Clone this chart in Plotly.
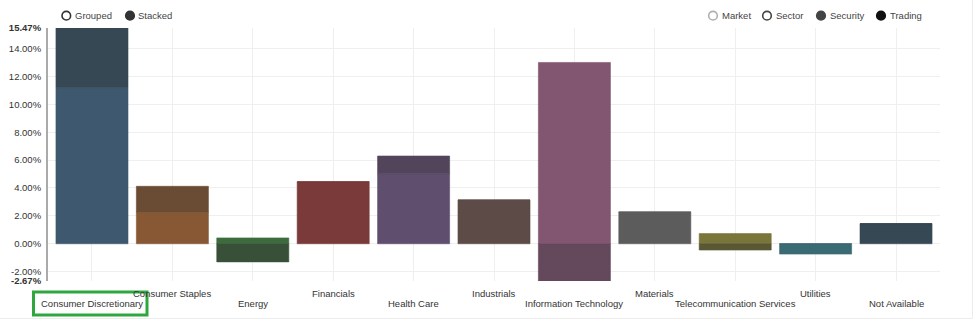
import plotly.graph_objects as go

categories = ["Consumer Discretionary", "Consumer Staples", "Energy", "Financials",
              "Health Care", "Industrials", "Information Technology", "Materials",
              "Telecommunication Services", "Utilities", "Not Available"]
security = [11.20, 2.26, 0.42, 4.45, 5.03, 3.14, 13.00, 2.28, 0.73, 0.00, 1.45]
trading = [4.27, 1.86, -1.30, 0.00, 1.26, 0.00, -2.67, 0.00, -0.45, -0.74, 0.00]
security_colors = ["#3e5870", "#885834", "#3d6b3d", "#7a3a3a", "#5f4e6e", "#5d4b48",
                   "#825670", "#5c5c5c", "#7a763a", "#3a6a73", "#374855"]
trading_colors = ["#374855", "#6a4b34", "#385038", "#7a3a3a", "#52445a", "#5d4b48",
                  "#64485c", "#5c5c5c", "#5a5834", "#3a6a73", "#374855"]
y_min, y_max = -2.67, 15.47
y_ticks = [-2.67, -2, 0, 2, 4, 6, 8, 10, 12, 14, 15.47]

W, H = 974, 321
L, R, T, B = 48, 940, 28, 281
FONT = "Liberation Sans, Arial, sans-serif"
FS = 9.5
TXT = "#333333"


def px(x):
    return (x - L) / (R - L)


def py(y):
    return (B - y) / (B - T)


def fmt(v):
    s = f"{v:.2f}%"
    return f"<b>{s}</b>" if v in (y_min, y_max) else s


fig = go.Figure()
fig.add_trace(go.Bar(x=categories, y=security, name="Security",
                     marker=dict(color=security_colors,
                                 line=dict(color=security_colors, width=0.6))))
fig.add_trace(go.Bar(x=categories, y=trading, name="Trading",
                     marker=dict(color=trading_colors,
                                 line=dict(color=trading_colors, width=0.6))))

fig.update_layout(
    width=W, height=H,
    margin=dict(l=L, r=W - R, t=T, b=H - B, pad=0, autoexpand=False),
    barmode="relative", bargap=0.104,
    plot_bgcolor="white", paper_bgcolor="white",
    showlegend=False,
    font=dict(family=FONT, size=FS, color=TXT),
    xaxis=dict(type="category", range=[-0.5 - 0.047, len(categories) - 0.5 + 0.047],
               showgrid=True, gridcolor="#efefef", gridwidth=1, automargin=False,
               showticklabels=False, ticks="", showline=False, zeroline=False),
    yaxis=dict(range=[y_min, y_max], tickvals=y_ticks,
               ticktext=[fmt(v) for v in y_ticks], automargin=False,
               showgrid=True, gridcolor="#efefef", gridwidth=1, zeroline=False,
               showline=True, linecolor="#aaaaaa", linewidth=2,
               ticks="", ticklabelstandoff=3,
               tickfont=dict(family=FONT, size=FS, color=TXT)),
)

annotations = []
for i, c in enumerate(categories):
    annotations.append(dict(x=c, y=0, xref="x", yref="paper", text=c, showarrow=False,
                            xanchor="center", yanchor="middle",
                            yshift=-22.5 if i % 2 == 0 else -12.5,
                            font=dict(family=FONT, size=FS, color=TXT)))

# toggle / legend items (circle center x, text start x, label, filled, color)
items = [
    (66.3, 73.3, "Grouped", False, "#333333"),
    (130, 135.7, "Stacked", True, "#333333"),
    (713, 720, "Market", False, "#b0b0b0"),
    (767, 774.3, "Sector", False, "#444444"),
    (821, 827.7, "Security", True, "#444444"),
    (881, 888.3, "Trading", True, "#111111"),
]
shapes = []
cy = 15.7
for cx, tx, label, filled, col in items:
    r = 4.3
    shapes.append(dict(type="circle", xref="paper", yref="paper",
                       x0=px(cx - r), x1=px(cx + r), y0=py(cy + r), y1=py(cy - r),
                       line=dict(color=col, width=1.6),
                       fillcolor=col if filled else "white", layer="above"))
    annotations.append(dict(x=px(tx), y=py(cy), xref="paper", yref="paper", text=label,
                            showarrow=False, xanchor="left", yanchor="middle",
                            font=dict(family=FONT, size=FS, color="#444444")))

# highlight box around first category label
shapes.append(dict(type="rect", xref="paper", yref="paper",
                   x0=px(33.5), x1=px(147), y0=py(315), y1=py(292),
                   line=dict(color="#2ea83e", width=3), layer="above"))
# faint panel border
shapes.append(dict(type="line", xref="paper", yref="paper",
                   x0=px(972.5), x1=px(972.5), y0=py(0), y1=py(318.5),
                   line=dict(color="#ececec", width=1)))
shapes.append(dict(type="line", xref="paper", yref="paper",
                   x0=px(0), x1=px(972.5), y0=py(318.5), y1=py(318.5),
                   line=dict(color="#ececec", width=1)))

fig.update_layout(annotations=annotations, shapes=shapes)
fig.write_html("out.html")
